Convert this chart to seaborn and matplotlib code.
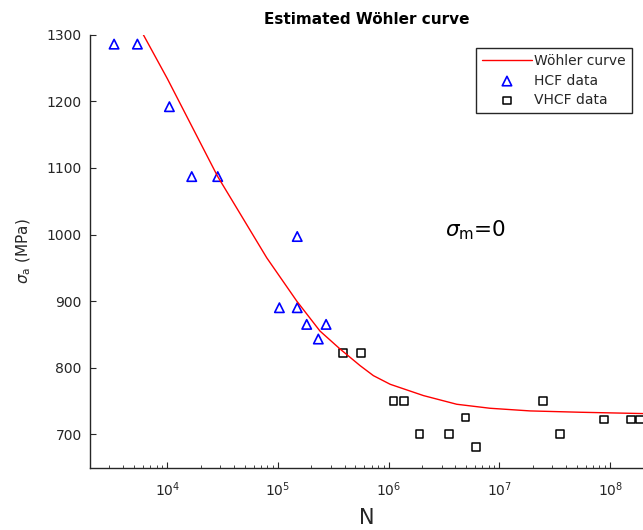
import matplotlib
matplotlib.use("Agg")
import matplotlib.pyplot as plt
import seaborn as sns
import pandas as pd
from matplotlib.ticker import LogLocator, NullFormatter, NullLocator, FixedLocator

# ---- data ----
curve_N = [6070, 10000, 28500, 38200, 79000, 147500, 239000, 363000, 551000,
           726000, 1.03e6, 2.06e6, 4.11e6, 8.2e6, 1.89e7, 5.35e7, 2.0e8]
curve_S = [1300, 1234, 1087, 1052, 965, 900, 855, 828, 803,
           788, 775, 758, 745, 739, 735, 733, 731]

hcf_N = [3300, 5360, 10430, 16600, 28500, 149000, 102800, 149000, 181400, 271500, 231000]
hcf_S = [1286, 1286, 1192, 1087, 1087, 997, 890, 890, 865, 865, 843]

vhcf_N = [3.84e5, 5.58e5, 1.10e6, 1.37e6, 1.89e6, 3.51e6, 4.92e6, 6.11e6,
          2.46e7, 3.52e7, 8.81e7, 1.55e8, 1.86e8]
vhcf_S = [822, 822, 750, 750, 700, 700, 725, 681, 750, 700, 722, 722, 722]

y_ticks = [700, 800, 900, 1000, 1100, 1200, 1300]

sns.set_theme(style="white")
plt.rcParams["font.family"] = ["DejaVu Sans"]
plt.rcParams["mathtext.fontset"] = "dejavusans"

grey = (0.15, 0.15, 0.15)

fig = plt.figure(figsize=(6.43, 5.30), dpi=100)
W, H = 643, 530
ax = fig.add_axes([90 / W, 1 - 467.5 / H, 553.5 / W, (467.5 - 34.8) / H])
ax.set_xscale("log")

curve_df = pd.DataFrame({"N": curve_N, "S": curve_S})
hcf_df = pd.DataFrame({"N": hcf_N, "S": hcf_S})
vhcf_df = pd.DataFrame({"N": vhcf_N, "S": vhcf_S})

sns.lineplot(data=curve_df, x="N", y="S", ax=ax, color="red", lw=1.0,
             label="Wöhler curve", estimator=None, sort=False)
sns.scatterplot(data=hcf_df, x="N", y="S", ax=ax, marker="^", s=46,
                facecolor="none", edgecolor="blue", linewidth=1.2,
                label="HCF data")
sns.scatterplot(data=vhcf_df, x="N", y="S", ax=ax, marker="s", s=30,
                facecolor="none", edgecolor="black", linewidth=1.1,
                label="VHCF data")

ax.set_xlim(2e3, 2e8)
ax.set_ylim(650, 1300)

ax.xaxis.set_major_locator(LogLocator(base=10, numticks=20))
ax.xaxis.set_minor_locator(LogLocator(base=10, subs=range(2, 10), numticks=100))
ax.xaxis.set_minor_formatter(NullFormatter())
ax.yaxis.set_major_locator(FixedLocator(y_ticks))
ax.yaxis.set_minor_locator(NullLocator())

for side in ["top", "right"]:
    ax.spines[side].set_visible(False)
for side in ["left", "bottom"]:
    ax.spines[side].set_color(grey)
    ax.spines[side].set_linewidth(1.0)

ax.tick_params(axis="both", which="major", direction="in", length=4,
               width=0.8, color=grey, labelcolor=grey, labelsize=10)
ax.tick_params(axis="x", which="minor", direction="in", length=2,
               width=0.6, color=grey)
ax.tick_params(axis="x", which="major", pad=9)
ax.tick_params(axis="y", which="major", pad=6)
ax.tick_params(left=True, bottom=True, which="major")
ax.tick_params(bottom=True, which="minor")

ax.set_title("Estimated Wöhler curve", fontsize=11, fontweight="bold",
             color="black", pad=7.5)
ax.set_xlabel("N", fontsize=15, color=grey, labelpad=6.5)
ax.set_ylabel(r"$\sigma_{\mathrm{a}}$ (MPa)", fontsize=11, color=grey, labelpad=10)

ax.text(3.22e6, 997, r"$\sigma_{\mathrm{m}}$=0", fontsize=15.5, color="black",
        ha="left", va="baseline")

leg = ax.legend(loc="upper right", bbox_to_anchor=(631.5 / W, 1 - 48.3 / H),
                bbox_transform=fig.transFigure, borderaxespad=0,
                frameon=True, fancybox=False, framealpha=1, fontsize=10,
                handlelength=3.6, handletextpad=0.15, labelspacing=0.4,
                borderpad=0.42, scatterpoints=1)
leg.get_frame().set_edgecolor(grey)
leg.get_frame().set_linewidth(1.0)
for t in leg.get_texts():
    t.set_color(grey)

fig.savefig("out.png", dpi=100)
